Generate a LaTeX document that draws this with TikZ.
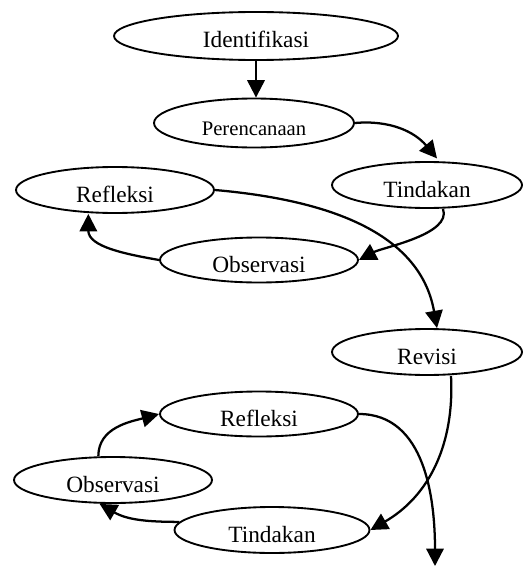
\documentclass[tikz,border=0pt]{standalone}
\usepackage{fontspec}
\setmainfont{Liberation Serif}
\usetikzlibrary{shapes.geometric,arrows.meta}

\begin{document}
\begin{tikzpicture}[x=0.75pt,y=0.75pt]
      \useasboundingbox (0,0) rectangle (527,-567);

      \begin{scope}[every node/.style={ellipse,draw,line width=1.4pt,inner sep=0pt,
          text height=18pt,text depth=0pt,font=\fontsize{17.5}{20}\selectfont}]
        \node[minimum width=213pt,minimum height=36pt]    (1) at (256,-36)  {Identifikasi};
        \node[minimum width=150pt,minimum height=36.75pt,
          font=\fontsize{15.5}{18}\selectfont]             (2) at (254,-123) {Perencanaan};
        \node[minimum width=142.5pt,minimum height=34.5pt] (3) at (427,-185) {Tindakan};
        \node[minimum width=148.5pt,minimum height=34.5pt] (4) at (115,-190) {Refleksi};
        \node[minimum width=148.5pt,minimum height=33.75pt] (5) at (259,-260) {Observasi};
        \node[minimum width=142.5pt,minimum height=34.5pt] (6) at (427,-352) {Revisi};
        \node[minimum width=148.5pt,minimum height=33.75pt] (7) at (259,-414) {Refleksi};
        \node[minimum width=148.5pt,minimum height=34.5pt] (8) at (113,-480) {Observasi};
        \node[minimum width=146.25pt,minimum height=34.5pt] (9) at (272,-530) {Tindakan};
      \end{scope}

      \coordinate (end) at (435,-566);

      \begin{scope}[every edge/.style={draw,line width=1.7pt,
          -{Triangle[length=13pt,width=13pt]}}]
        \path (1.south) edge (1.south |- 2.north);
        \path (2.east)  edge[out=5,in=130] ([xshift=7.5pt,yshift=2pt]3.north);
        \path ([xshift=12pt]3.south) edge[out=-70,in=28,looseness=0.7] (5.east);
        \path (5.west)  edge[out=170,in=-90] ([xshift=-20pt]4.south);
        \path (4.east)  edge[out=-5,in=100] ([xshift=7.5pt]6.north);
        \path ([xshift=18pt]6.south) edge[out=-87,in=30] (9.east);
        \path (9.175)   edge[out=180,in=-30] ([xshift=-10pt]8.south);
        \path ([xshift=-11pt]8.north) edge[out=90,in=195] (7.west);
        \path (7.east)  edge[out=0,in=90] (end);
      \end{scope}

    \end{tikzpicture}
\end{document}
